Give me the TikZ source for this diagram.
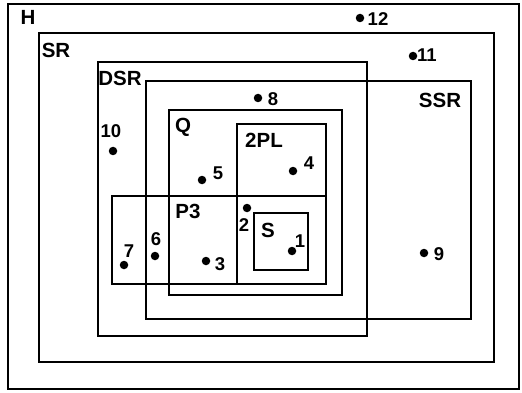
\documentclass[tikz,border=0pt]{standalone}
\usepackage{fontspec}
\setmainfont{Liberation Sans}
\usepackage{tikz}
\usetikzlibrary{positioning}

\begin{document}
\begin{tikzpicture}[x=1pt, y=-1pt,
  region/.style={draw, line width=2.2pt},
  setname/.style={font=\fontsize{20.5}{20.5}\selectfont\bfseries, inner sep=0pt},
  num/.style={font=\fontsize{18.5}{18.5}\selectfont\bfseries, inner sep=0pt},
  dot/.style={circle, fill, inner sep=0pt, minimum size=8.5pt}
]
\useasboundingbox (0,0) rectangle (522,393);

% regions
\draw[region, line width=1.6pt] (8,4) rectangle (519,389);
\draw[region] (39,33) rectangle (494,362);
\draw[region] (98,62) rectangle (367,336);
\draw[region] (146,81) rectangle (471,319);
\draw[region] (169,110) rectangle (342,295);
\draw[region] (237,124) rectangle (326,284);
\draw[region] (112,196) rectangle (326,284);
\draw[region] (254,213) rectangle (308,270);

% region names
\node[setname] (h)   at (28,17)  {H};
\node[setname] (sr)  at (56,50)  {SR};
\node[setname] (dsr) at (120,78) {DSR};
\node[setname] (ssr) at (440,100) {SSR};
\node[setname] (q)   at (183,127) {Q};
\node[setname] (pl)  at (264,140) {2PL};
\node[setname] (p3)  at (188,211) {P3};
\node[setname] (s)   at (268,230) {S};

% points
\node[dot] (p1)  at (292,251) {};
\node[dot] (p2)  at (247,208) {};
\node[dot] (p3d) at (206,261) {};
\node[dot] (p4)  at (293,171) {};
\node[dot] (p5)  at (202,180) {};
\node[dot] (p6)  at (155,256) {};
\node[dot] (p7)  at (124,265) {};
\node[dot] (p8)  at (258,98)  {};
\node[dot] (p9)  at (424,253) {};
\node[dot] (p10) at (113,151) {};
\node[dot] (p11) at (413,56)  {};
\node[dot] (p12) at (360,18)  {};

\node[num] (n1)  at (300,241) {1};
\node[num] (n2)  at (244,225) {2};
\node[num] (n3)  at (220,264) {3};
\node[num] (n4)  at (309,163) {4};
\node[num] (n5)  at (218,173) {5};
\node[num] (n6)  at (156,239) {6};
\node[num] (n7)  at (129,251) {7};
\node[num] (n8)  at (273,99)  {8};
\node[num] (n9)  at (439,254) {9};
\node[num] (n10) at (111,131) {10};
\node[num] (n11) at (427,55)  {11};
\node[num] (n12) at (378,19)  {12};
\end{tikzpicture}
\end{document}
